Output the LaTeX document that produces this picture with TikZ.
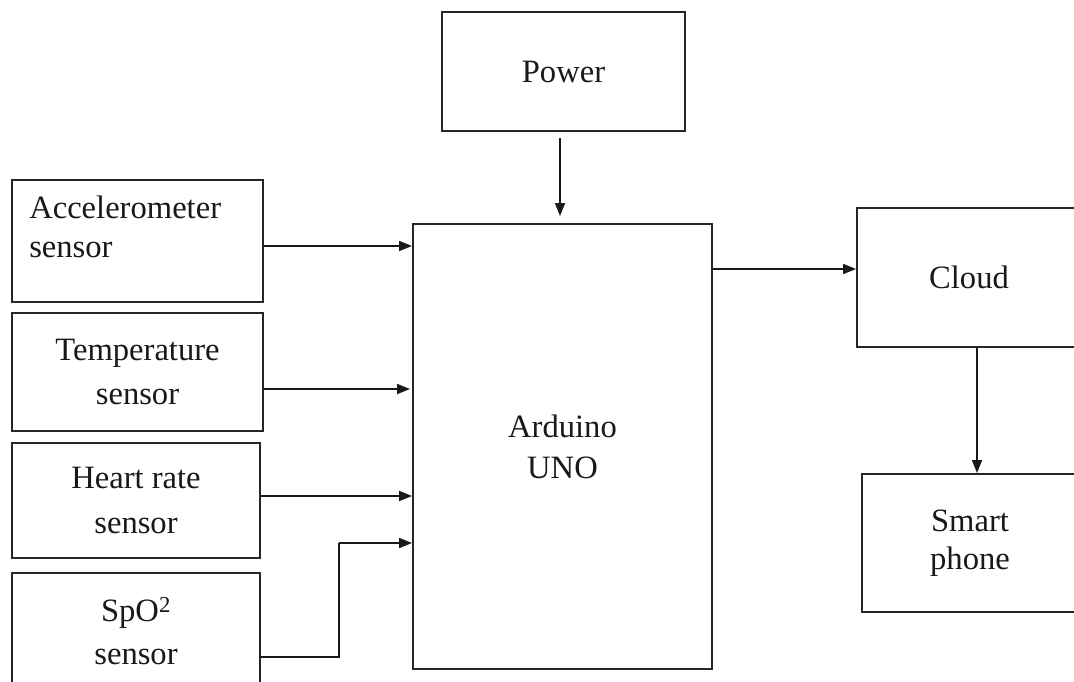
\documentclass[tikz,border=0pt]{standalone}
\usepackage{fontspec}
\setmainfont{Liberation Serif}
\usetikzlibrary{arrows.meta,calc}
\begin{document}
\begin{tikzpicture}[x=1pt,y=-1pt,
  box/.style={draw=black!85, line width=1.9pt, inner sep=0pt, align=center,
    font=\fontsize{32.6}{41}\selectfont, text=black!90},
  lbl/.style={inner sep=0pt, align=left, font=\fontsize{32.6}{39}\selectfont, text=black!90},
  arr/.style={draw=black!90, line width=1.7pt, -{Triangle[length=13pt,width=10pt]}},
  ln/.style={draw=black!90, line width=1.7pt}]
\useasboundingbox[fill=white] (0,0) rectangle (1074,682);
\node[box, minimum width=243pt, minimum height=119pt] (power) at (563.5,71.5) {Power};
\node[box, minimum width=251pt, minimum height=122pt] (acc) at (137.5,241) {};
\node[lbl, anchor=west] (acctext) at ($(acc.west)+(18,-14)$) {Accelerometer\\sensor};
\node[box, minimum width=251pt, minimum height=118pt] (temp) at (137.5,372) {Temperature\\[3pt]sensor};
\node[box, minimum width=248pt, minimum height=115pt] (heart) at (136,500.5) {Heart rate\\[4pt]sensor};
\node[box, minimum width=248pt, minimum height=117pt] (spo) at (136,631.5) {SpO\textsuperscript{2}\\[2pt]sensor};
\node[box, minimum width=299pt, minimum height=445pt] (ard) at (562.5,446.5) {Arduino\\UNO};
\node[box, minimum width=224pt, minimum height=139pt] (cloud) at (969,277.5) {Cloud};
\node[box, minimum width=216pt, minimum height=138pt] (phone) at (970,543) {Smart\\[-3pt]phone};
% connectors
\draw[arr] ([xshift=-3.5pt,yshift=-6pt]power.south) -- ([xshift=-2.5pt,yshift=7pt]ard.north);
\coordinate (pa) at ([yshift=-5pt]acc.east);
\draw[arr] (pa) -- (pa -| ard.west);
\coordinate (pt) at ([yshift=-17pt]temp.east);
\draw[arr] (pt) -- ([xshift=-2pt]pt -| ard.west);
\coordinate (ph) at ([yshift=4.5pt]heart.east);
\draw[arr] (ph) -- (ph -| ard.west);
\coordinate (ps) at ([yshift=-25.5pt]spo.east);
\coordinate (pbend) at ([xshift=78pt]ps);
\coordinate (pup) at ([yshift=114pt]pbend);
\draw[ln] (ps) -- (pbend) -- (pup);
\draw[arr] (pup) -- (pup -| ard.west);
\coordinate (pc) at ([yshift=8.5pt]cloud.west);
\draw[arr] (pc -| ard.east) -- (pc);
\draw[arr] ([xshift=8pt]cloud.south) -- ([xshift=7pt]phone.north);
\end{tikzpicture}
\end{document}
